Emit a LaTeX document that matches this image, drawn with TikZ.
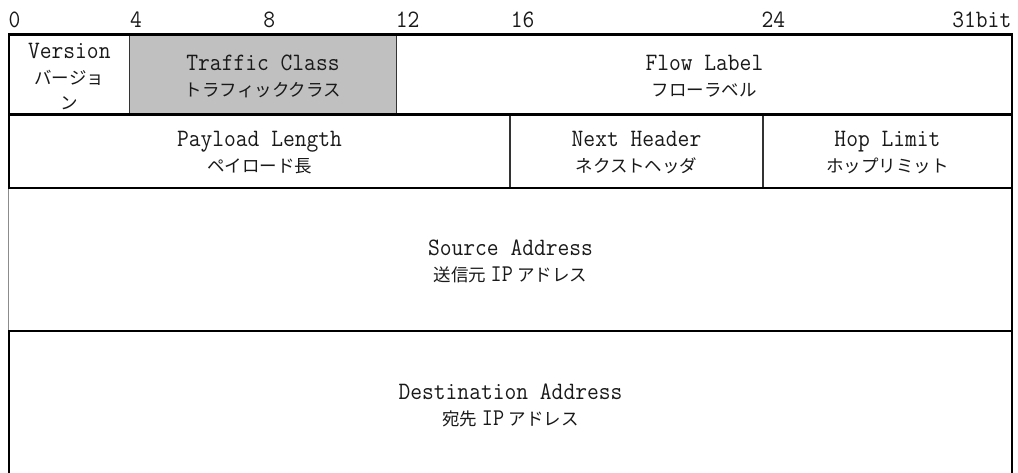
\documentclass[tikz,border=0pt]{standalone}
\usepackage{fontspec}
\usepackage{graphicx}
\newfontfamily\jpfont{Noto Sans CJK JP}
\definecolor{tcgray}{RGB}{192,192,192}
\definecolor{txt}{RGB}{25,25,25}
\newcommand{\lt}[1]{\scalebox{0.915}[1]{\fontsize{25pt}{25pt}\selectfont\ttfamily #1}}
\newcommand{\jt}[1]{{\fontsize{17.5pt}{17.5pt}\selectfont\jpfont #1}}
\newcommand{\jip}{\hspace{4.5pt}\scalebox{0.9}[1]{\fontsize{24pt}{24pt}\selectfont\ttfamily IP}\hspace{4.5pt}}
\tikzset{
  hline/.style={line width=2.2pt, black},
  oline/.style={line width=2pt, black},
  iline/.style={line width=1.3pt, black!80},
  thinl/.style={line width=1pt, black!45},
  txtnode/.style={anchor=base, inner sep=0pt, text=txt},
  hdw/.style={anchor=base west, inner sep=0pt, text=txt},
  hde/.style={anchor=base east, inner sep=0pt, text=txt},
}
\begin{document}
\begin{tikzpicture}[x=1pt,y=-1pt]
\useasboundingbox (0,0) rectangle (1018,473);
% fill
\fill[tcgray] (129.5,34.5) rectangle (396.7,114.5);
% header labels
\node[hdw] (b0) at (8.5,27.3) {\lt{0}};
\node[hdw] (b4) at (129.8,27.3) {\lt{4}};
\node[hdw] (b8) at (263.2,27.3) {\lt{8}};
\node[hdw] (b12) at (395.7,27.3) {\lt{12}};
\node[hdw] (b16) at (510.7,27.3) {\lt{16}};
\node[hdw] (b24) at (761.5,27.3) {\lt{24}};
\node[hde] (b31) at (1011.5,27.3) {\lt{31bit}};
% inner vertical lines
\draw[iline] (129.5,34.5) -- (129.5,114.5);
\draw[iline] (396.7,34.5) -- (396.7,114.5);
\draw[iline] (510,114.5) -- (510,187.8);
\draw[iline] (763,114.5) -- (763,187.8);
% outer vertical lines
\draw[oline] (9,34.5) -- (9,187.8);
\draw[thinl] (8.5,187.8) -- (8.5,331);
\draw[oline] (9,331) -- (9,480);
\draw[oline] (1012,34.5) -- (1012,480);
% horizontal lines
\draw[hline] (8,34.5) -- (1013,34.5);
\draw[hline] (8,114.5) -- (1013,114.5);
\draw[hline] (8,187.8) -- (1013,187.8);
\draw[hline] (8,331) -- (1013,331);
\draw[hline] (8,474.5) -- (1013,474.5);
% row 1
\node[txtnode] (verE) at (69.3,58.5) {\lt{Version}};
\node[txtnode] (verJ1) at (69.3,84.5) {\jt{バージョ}};
\node[txtnode] (verJ2) at (69.3,109.5) {\jt{ン}};
\node[txtnode] (tcE) at (263,70.5) {\lt{Traffic Class}};
\node[txtnode] (tcJ) at (263,96.5) {\jt{トラフィッククラス}};
\node[txtnode] (flE) at (704.4,70.5) {\lt{Flow Label}};
\node[txtnode] (flJ) at (704.4,96.5) {\jt{フローラベル}};
% row 2
\node[txtnode] (plE) at (259.5,147) {\lt{Payload Length}};
\node[txtnode] (plJ) at (259.5,173) {\jt{ペイロード長}};
\node[txtnode] (nhE) at (636.5,147) {\lt{Next Header}};
\node[txtnode] (nhJ) at (636.5,173) {\jt{ネクストヘッダ}};
\node[txtnode] (hlE) at (887.5,147) {\lt{Hop Limit}};
\node[txtnode] (hlJ) at (887.5,173) {\jt{ホップリミット}};
% row 3
\node[txtnode] (saE) at (510.5,256) {\lt{Source Address}};
\node[txtnode] (saJ) at (510.5,282) {\jt{送信元}\jip\jt{アドレス}};
% row 4
\node[txtnode] (daE) at (510.5,399) {\lt{Destination Address}};
\node[txtnode] (daJ) at (510.5,425) {\jt{宛先}\jip\jt{アドレス}};
\end{tikzpicture}
\end{document}
